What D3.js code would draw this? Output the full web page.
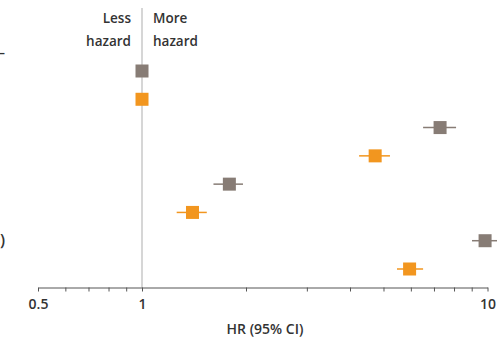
<!DOCTYPE html>
<html><head><meta charset="utf-8">
<script src="https://cdn.jsdelivr.net/npm/d3@7"></script>
<style>
html,body{margin:0;padding:0;background:#fff;}
svg{display:block;}
text{font-family:"Open Sans",sans-serif;font-weight:600;fill:#333;}
</style></head>
<body>
<svg id="chart" width="497" height="339"></svg>
<script>
// Data
const rows = ["r1","r2","r3","r4","r5","r6","r7","r8"];
const groups = ["gray","orange","gray","orange","gray","orange","gray","orange"];
const hr =    [1.00, 1.00, 7.29, 4.73, 1.79, 1.40, 9.84, 5.95];
const lower = [0.99, 0.99, 6.51, 4.25, 1.61, 1.26, 9.02, 5.47];
const upper = [1.01, 1.01, 8.11, 5.22, 1.96, 1.54, 10.9, 6.51];
const tickValues = [0.5,0.6,0.7,0.8,0.9,1,2,3,4,5,6,7,8,9,10];
const tickLabels = {0.5:"0.5", 1:"1", 10:"10"};
const colors = {gray:"#877c75", orange:"#f2961f"};

const svg = d3.select("#chart");
const x = d3.scaleLog().domain([0.5,10]).range([38,487.5]);
const y = d3.scalePoint().domain(rows).range([71,269]);
const axisY = 287.5;

// reference line at HR = 1
svg.append("line")
  .attr("x1",x(1)).attr("x2",x(1)).attr("y1",8).attr("y2",axisY)
  .attr("stroke","#c9c9c9").attr("stroke-width",1.5);

// direction labels
const lab = svg.append("g").style("font-size","13.5px");
lab.append("text").attr("x",x(1)-11).attr("y",23).attr("text-anchor","end").text("Less");
lab.append("text").attr("x",x(1)-11).attr("y",46).attr("text-anchor","end").text("hazard");
lab.append("text").attr("x",x(1)+11).attr("y",23).text("More");
lab.append("text").attr("x",x(1)+11).attr("y",46).text("hazard");

// cut-off left labels remnants
svg.append("text").attr("x",5).attr("y",57).attr("text-anchor","end").style("font-size","14px").text("–");
svg.append("text").attr("x",5).attr("y",246).attr("text-anchor","end").style("font-size","16px").text(")");

// axis
const axis = d3.axisBottom(x).tickValues(tickValues)
  .tickFormat(d => tickLabels[d] || "").tickSize(4).tickSizeOuter(0);
const ag = svg.append("g").attr("transform",`translate(0,${axisY})`).call(axis);
ag.select(".domain").attr("stroke","#555").attr("stroke-width",1);
ag.selectAll(".tick line").attr("stroke","#555");
ag.selectAll(".tick text").style("font-size","14px").attr("dy","1.05em").attr("fill","#333")
  .style("font-family","'Open Sans',sans-serif").style("font-weight","600");

svg.append("text").attr("x",265).attr("y",334).attr("text-anchor","middle")
  .style("font-size","14px").text("HR (95% CI)");

// whiskers and markers
const data = rows.map((r,i)=>({r, g:groups[i], hr:hr[i], lo:lower[i], hi:upper[i]}));
const sq = 13;
const mk = svg.append("g");
mk.selectAll("line.ci").data(data).join("line").attr("class","ci")
  .attr("x1",d=>x(d.lo)).attr("x2",d=>x(d.hi))
  .attr("y1",d=>y(d.r)).attr("y2",d=>y(d.r))
  .attr("stroke",d=>colors[d.g]).attr("stroke-width",1.5);
mk.selectAll("rect").data(data).join("rect")
  .attr("x",d=>x(d.hr)-sq/2).attr("y",d=>y(d.r)-sq/2)
  .attr("width",sq).attr("height",sq)
  .attr("fill",d=>colors[d.g]);
</script>
</body></html>
